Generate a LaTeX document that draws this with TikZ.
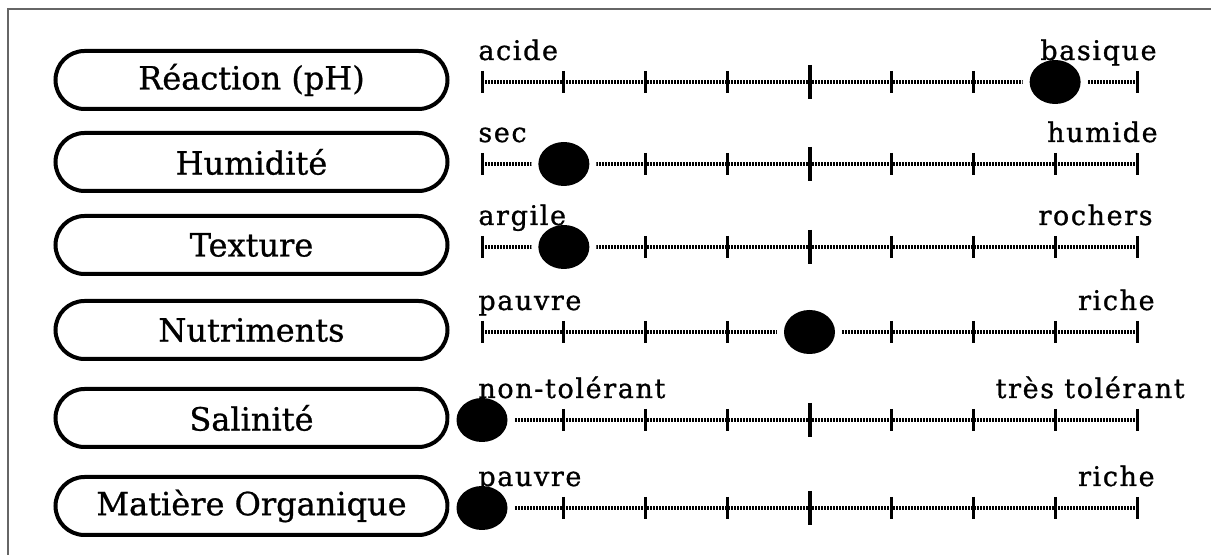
\documentclass[tikz,border=0pt]{standalone}
\usepackage{fontspec}
\setmainfont[FakeBold=0.8]{DejaVu Serif}
\newfontfamily\lblfont[LetterSpace=6,FakeBold=1]{DejaVu Serif}
\usetikzlibrary{positioning,shapes.geometric,shapes.misc}

\begin{document}
\begin{tikzpicture}[x=0.5pt,y=-0.5pt,
    pill/.style={rounded rectangle,draw,line width=2pt,minimum width=196pt,minimum height=29pt,inner sep=0pt,font=\fontsize{16}{18}\selectfont},
    ball/.style={ellipse,fill=black,minimum width=25.5pt,minimum height=22pt,inner sep=0pt,preaction={draw=white,line width=7pt}},
    ruler/.style={line width=1.6pt,dash pattern=on 1.1pt off 0.4pt},
    tickmark/.style={line width=1.5pt},
    lo/.style={anchor=base west,inner sep=0pt,font=\lblfont\fontsize{13.5}{16}\selectfont},
    hi/.style={anchor=base east,inner sep=0pt,font=\lblfont\fontsize{13.5}{16}\selectfont}]
  \useasboundingbox (0,0) rectangle (1211,555);
  \clip (0,0) rectangle (1211,555);
  \draw[black!60,line width=0.7pt] (8,9) rectangle (1240,580);

  % one row per soil property: box, ruler, dot, end labels
  \foreach \txt/\lt/\rt/\rx/\k/\y [count=\i] in {
      R\'eaction (pH)/acide/basique/1157/7/82,
      Humidit\'e/sec/humide/1158/1/164,
      Texture/argile/rochers/1153/1/247,
      Nutriments/pauvre/riche/1155/4/332,
      Salinit\'e/non-tol\'erant/tr\`es tol\'erant/1185/0/420,
      Mati\`ere Organique/pauvre/riche/1155/0/508}{
    \node[pill] (box\i) at (251.5,\y-2) {\txt};
    \coordinate (s\i) at (482,\y);
    \coordinate (e\i) at (1137,\y);
    \draw[ruler] (s\i) -- (e\i);
    \foreach \j in {0,...,8}
      \draw[tickmark] (482+81.875*\j,\y-11) -- ++(0,22);
    \draw[tickmark,line width=2pt] (809.5,\y-17) -- ++(0,34);
    \node[ball] (dot\i) at (482+81.875*\k,\y) {};
    \node[lo] (lo\i) at (478,\y-22) {\lt};
    \node[hi] (hi\i) at (\rx,\y-22) {\rt};
  }
\end{tikzpicture}
\end{document}
